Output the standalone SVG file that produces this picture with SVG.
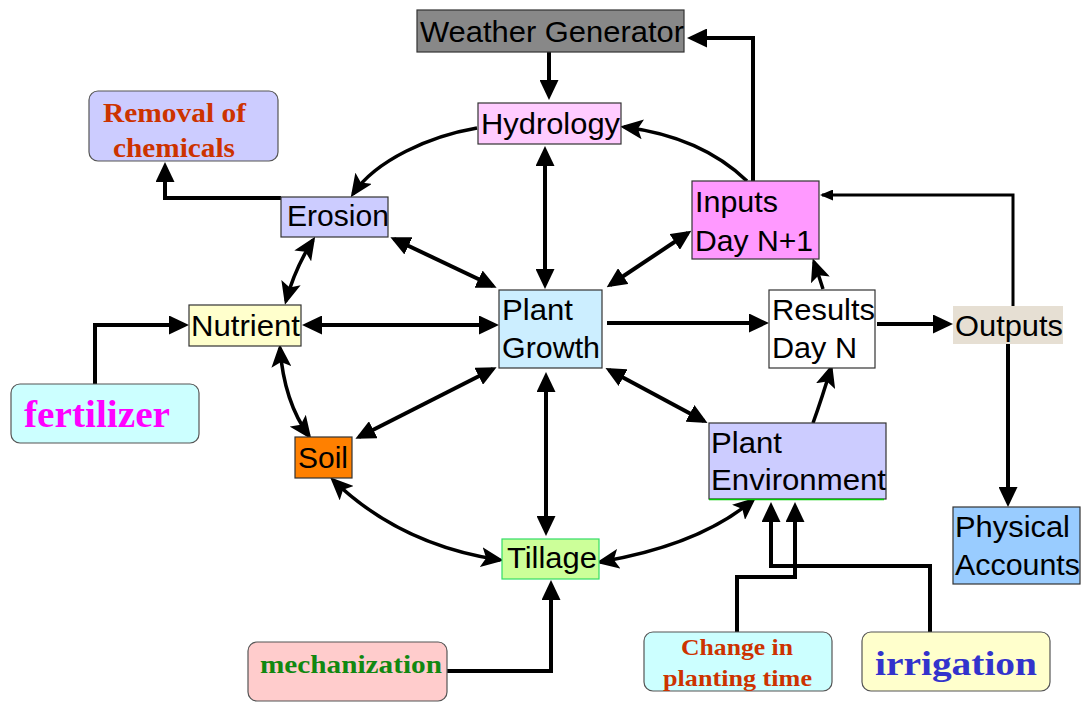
<svg xmlns="http://www.w3.org/2000/svg" width="1085" height="702" viewBox="0 0 1085 702">
<style>
.box{stroke:#333;stroke-width:1.2}
.rbox{stroke:#555;stroke-width:1.2}
.lbl{font-family:"Liberation Sans",Arial,sans-serif;font-size:29px;fill:#000}
.ser{font-family:"Liberation Serif","Times New Roman",serif;font-weight:bold}
.thick{stroke:#000;stroke-width:4;fill:none}
.thin{stroke:#000;stroke-width:3;fill:none}
.curve{stroke:#000;stroke-width:3.5;fill:none}
</style>
<defs>
<marker id="tri" viewBox="0 0 20 19" refX="16" refY="9.5" markerWidth="20" markerHeight="19" markerUnits="userSpaceOnUse" orient="auto-start-reverse"><path d="M0,0 L20,9.5 L0,19 z" fill="#000"/></marker>
<marker id="barb" viewBox="0 0 23 20" refX="19" refY="10" markerWidth="23" markerHeight="20" markerUnits="userSpaceOnUse" orient="auto-start-reverse"><path d="M0,0 L23,10 L0,20 L5,10 z" fill="#000"/></marker>
<marker id="small" viewBox="0 0 13 11" refX="11" refY="5.5" markerWidth="13" markerHeight="11" markerUnits="userSpaceOnUse" orient="auto"><path d="M0,0 L13,5.5 L0,11 z" fill="#000"/></marker>
</defs>
<rect width="1085" height="702" fill="#fff"/>

<g id="connectors">
<path class="thick" d="M545,150 L545,285" marker-start="url(#tri)" marker-end="url(#tri)"/>
<path class="thick" d="M546,376 L546,532" marker-start="url(#tri)" marker-end="url(#tri)"/>
<path class="thick" d="M306,325 L495,325" marker-start="url(#tri)" marker-end="url(#tri)"/>
<path class="thick" d="M607,323 L765,323" marker-end="url(#tri)"/>
<path class="thick" d="M877,324 L949,324" marker-end="url(#tri)"/>
<path class="thick" d="M394,239 L493,286" marker-start="url(#tri)" marker-end="url(#tri)"/>
<path class="thick" d="M610,285 L688,233" marker-start="url(#tri)" marker-end="url(#tri)"/>
<path class="thick" d="M493,369 L359,437" marker-start="url(#tri)" marker-end="url(#tri)"/>
<path class="thick" d="M609,370 L704,421" marker-start="url(#tri)" marker-end="url(#tri)"/>
<path class="curve" d="M477,128 C430,136 376,160 353,194" marker-end="url(#barb)"/>
<path class="curve" d="M747,181 C720,155 680,134 624,127" marker-end="url(#barb)"/>
<path class="curve" d="M313,240 Q295,268 286,301" marker-start="url(#barb)" marker-end="url(#barb)"/>
<path class="curve" d="M280,348 Q284,402 309,436" marker-start="url(#barb)" marker-end="url(#barb)"/>
<path class="curve" d="M333,480 Q400,545 500,560" marker-start="url(#barb)" marker-end="url(#barb)"/>
<path class="curve" d="M753,500 Q700,545 600,562" marker-start="url(#barb)" marker-end="url(#barb)"/>
<path class="curve" d="M813,423 Q822,398 831,368" marker-end="url(#barb)"/>
<path class="curve" d="M823,289 Q819,276 814,262" marker-end="url(#barb)"/>
<path class="thick" d="M549,52 L549,96" marker-end="url(#tri)"/>
<path class="thick" d="M281,198 L165,198 L165,166" marker-end="url(#tri)"/>
<path class="thick" d="M753,181 L753,38 L691,38" marker-end="url(#tri)"/>
<path class="thin" d="M1013,306 L1013,195 L822,195" marker-end="url(#small)"/>
<path class="thick" d="M1008,344 L1008,503" marker-end="url(#tri)"/>
<path class="thick" d="M95,384 L95,325 L185,325" marker-end="url(#tri)"/>
<path class="thick" d="M447,671 L551,671 L551,584" marker-end="url(#tri)"/>
<path class="thick" d="M737,632 L737,577 L795,577 L795,506" marker-end="url(#tri)"/>
<path class="thick" d="M930,632 L930,566 L771,566 L771,506" marker-end="url(#tri)"/>
</g>

<g id="weather">
<rect class="box" x="417" y="10" width="267" height="42" fill="#888888"/>
<text class="lbl" x="420" y="42" font-size="28" textLength="264" lengthAdjust="spacingAndGlyphs">Weather Generator</text>
</g>
<g id="hydrology">
<rect class="box" x="478" y="103" width="143" height="41" fill="#ffccff"/>
<text class="lbl" x="481" y="134" textLength="139" lengthAdjust="spacingAndGlyphs">Hydrology</text>
</g>
<g id="removal">
<rect class="rbox" x="89" y="91" width="189" height="70" rx="9" fill="#ccccff"/>
<text class="ser" x="103" y="122" font-size="27" fill="#cc3300" textLength="143" lengthAdjust="spacingAndGlyphs">Removal of</text>
<text class="ser" x="113" y="157" font-size="27" fill="#cc3300" textLength="122" lengthAdjust="spacingAndGlyphs">chemicals</text>
</g>
<g id="erosion">
<rect class="box" x="281" y="197" width="107" height="40" fill="#ccccff"/>
<text class="lbl" x="287" y="226" textLength="102" lengthAdjust="spacingAndGlyphs">Erosion</text>
</g>
<g id="inputs">
<rect class="box" x="692" y="181" width="127" height="78" fill="#ff99ff"/>
<text class="lbl" x="695" y="212" textLength="83" lengthAdjust="spacingAndGlyphs">Inputs</text>
<text class="lbl" x="695" y="251" textLength="118" lengthAdjust="spacingAndGlyphs">Day N+1</text>
</g>
<g id="nutrient">
<rect class="box" x="189" y="305" width="112" height="41" fill="#ffffcc"/>
<text class="lbl" x="191" y="336" textLength="109" lengthAdjust="spacingAndGlyphs">Nutrient</text>
</g>
<g id="fertilizer">
<rect class="rbox" x="11" y="384" width="188" height="59" rx="9" fill="#ccffff"/>
<text class="ser" x="24" y="427" font-size="37" fill="#ff00ff" textLength="146" lengthAdjust="spacingAndGlyphs">fertilizer</text>
</g>
<g id="plantgrowth">
<rect class="box" x="499" y="290" width="103" height="78" fill="#cceeff"/>
<text class="lbl" x="502" y="320" fill="#ff8000" textLength="71" lengthAdjust="spacingAndGlyphs">Plant</text>
<text class="lbl" x="502" y="358" fill="#ff8000" textLength="98" lengthAdjust="spacingAndGlyphs">Growth</text>
</g>
<g id="results">
<rect class="box" x="769" y="290" width="106" height="78" fill="#ffffff"/>
<text class="lbl" x="772" y="320" textLength="103" lengthAdjust="spacingAndGlyphs">Results</text>
<text class="lbl" x="772" y="358" textLength="85" lengthAdjust="spacingAndGlyphs">Day N</text>
</g>
<g id="outputs">
<rect x="953" y="306" width="110" height="38" fill="#e6dfd3"/>
<text class="lbl" x="955" y="336" textLength="108" lengthAdjust="spacingAndGlyphs">Outputs</text>
</g>
<g id="soil">
<rect class="box" x="295" y="437" width="57" height="41" fill="#ff8000"/>
<text class="lbl" x="298" y="468" textLength="50" lengthAdjust="spacingAndGlyphs">Soil</text>
</g>
<g id="plantenv">
<rect class="box" x="709" y="423" width="177" height="76" fill="#ccccff"/>
<line x1="709" y1="499.5" x2="884" y2="499.5" stroke="#00cc00" stroke-width="1.5"/>
<text class="lbl" x="711" y="453" textLength="71" lengthAdjust="spacingAndGlyphs">Plant</text>
<text class="lbl" x="711" y="490" textLength="175" lengthAdjust="spacingAndGlyphs">Environment</text>
</g>
<g id="physical">
<rect class="box" x="953" y="507" width="127" height="77" fill="#99ccff"/>
<text class="lbl" x="955" y="537" textLength="115" lengthAdjust="spacingAndGlyphs">Physical</text>
<text class="lbl" x="955" y="575" textLength="125" lengthAdjust="spacingAndGlyphs">Accounts</text>
</g>
<g id="tillage">
<rect x="502" y="539" width="97" height="40" fill="#ccff99" stroke="#33dd66" stroke-width="1.2"/>
<text class="lbl" x="507" y="568" textLength="90" lengthAdjust="spacingAndGlyphs">Tillage</text>
</g>
<g id="mechanization">
<rect class="rbox" x="248" y="642" width="199" height="59" rx="9" fill="#ffcccc"/>
<text class="ser" x="260" y="673" font-size="25" fill="#118811" textLength="182" lengthAdjust="spacingAndGlyphs">mechanization</text>
</g>
<g id="change">
<rect class="rbox" x="644" y="632" width="188" height="59" rx="9" fill="#ccffff"/>
<text class="ser" x="681" y="655" font-size="24" fill="#cc3300" textLength="112" lengthAdjust="spacingAndGlyphs">Change in</text>
<text class="ser" x="663" y="686" font-size="24" fill="#cc3300" textLength="149" lengthAdjust="spacingAndGlyphs">planting time</text>
</g>
<g id="irrigation">
<rect class="rbox" x="862" y="632" width="188" height="59" rx="9" fill="#ffffcc"/>
<text class="ser" x="875" y="675" font-size="34" fill="#3333cc" textLength="162" lengthAdjust="spacingAndGlyphs">irrigation</text>
</g>
</svg>
